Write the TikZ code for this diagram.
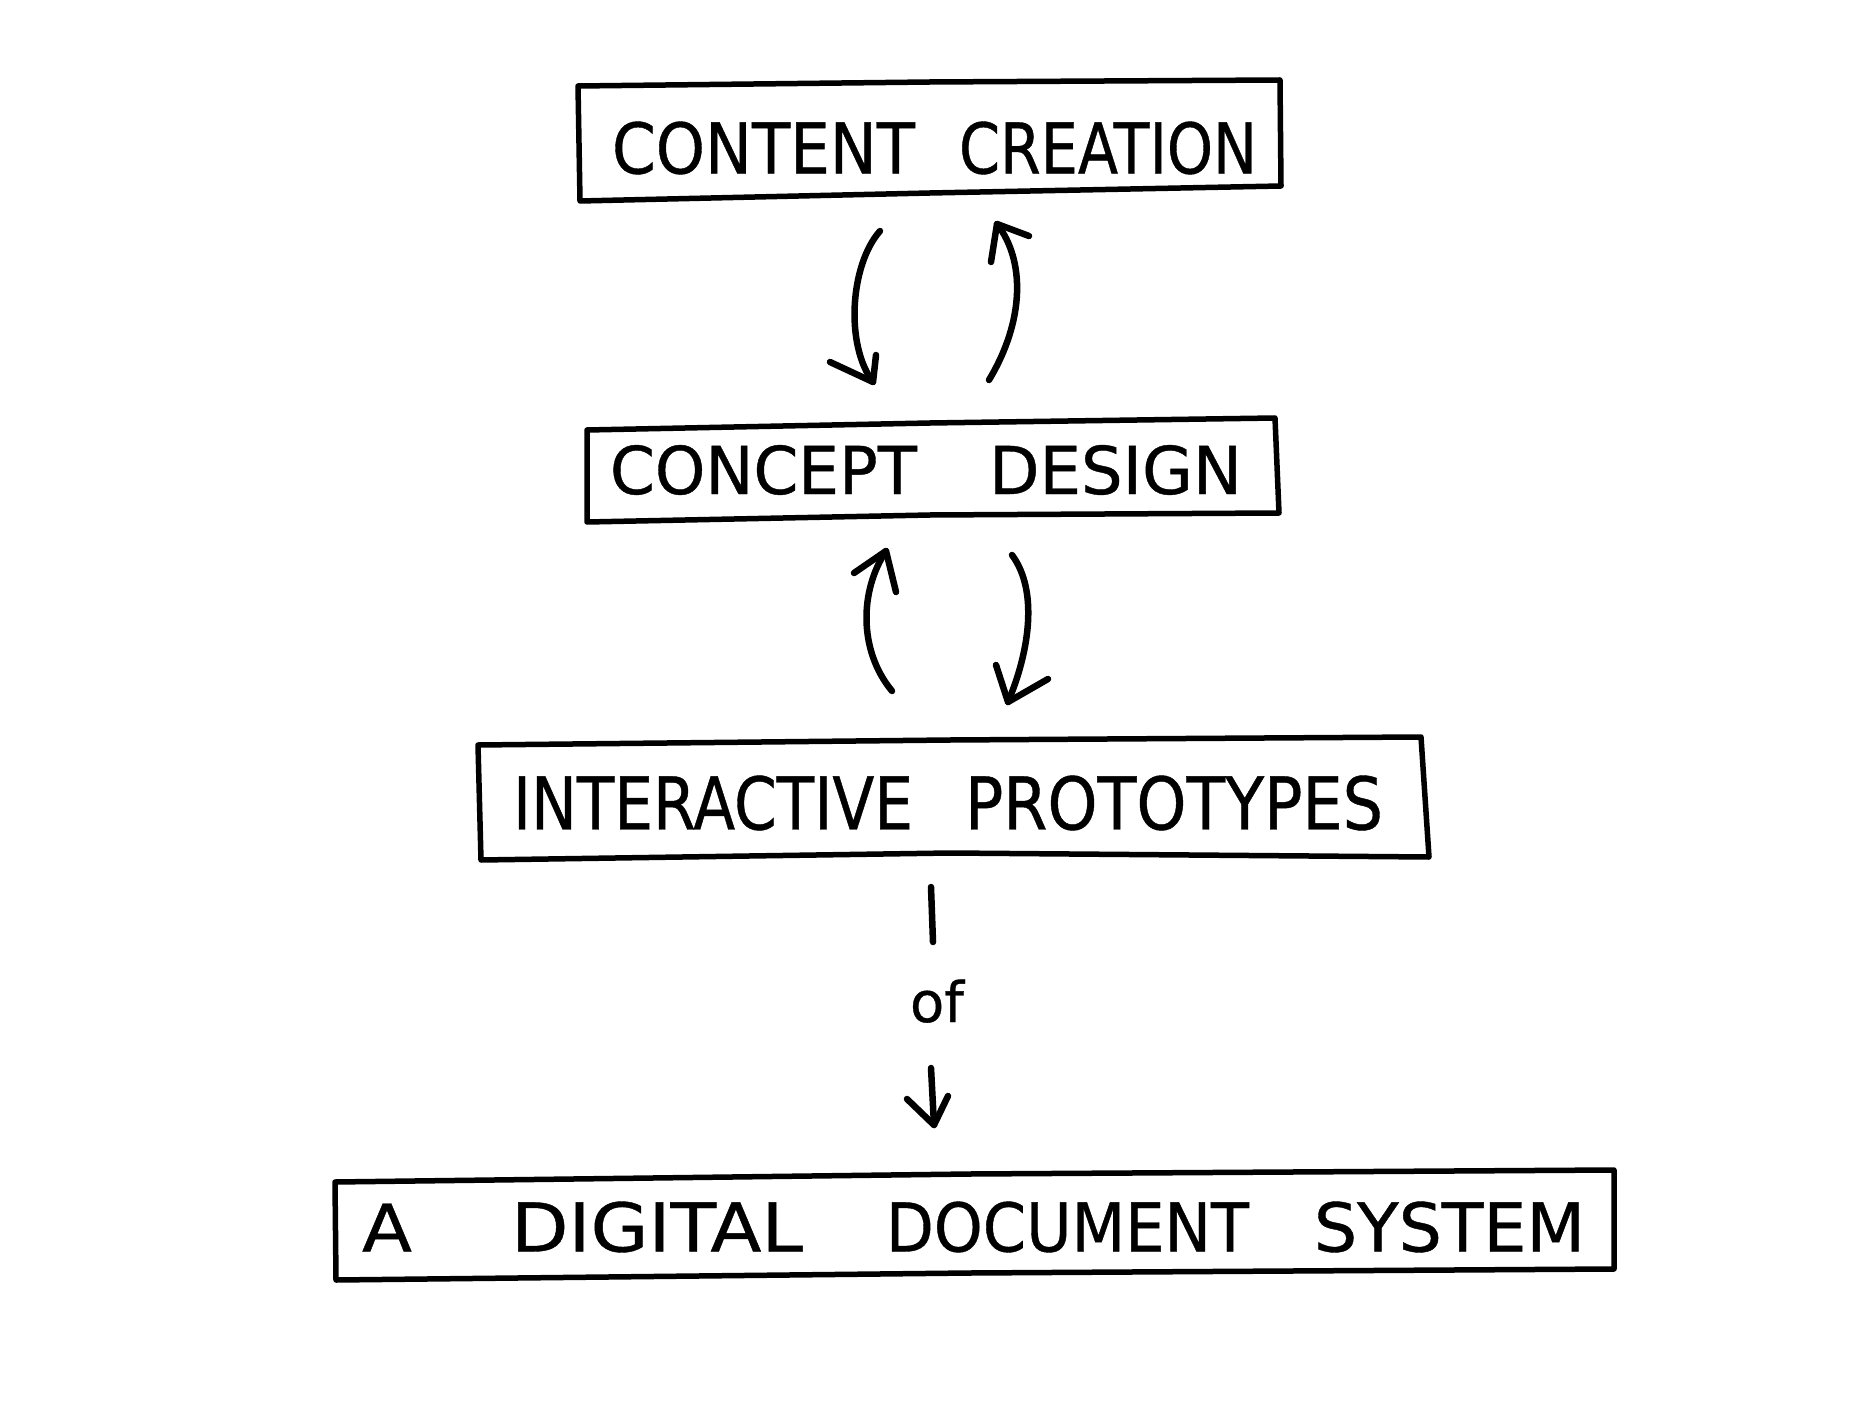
\documentclass[tikz,border=0pt]{standalone}
\usepackage{fontspec}
\usepackage{graphicx}
\newfontfamily\handfont[FakeBold=0.6]{DejaVu Sans}
\newfontfamily\ofont[FakeBold=0.6]{DejaVu Sans}
\newcommand\hwd[3]{\resizebox{#1pt}{#2pt}{#3}}
\tikzset{
  box/.style={line width=5.5pt, line join=round, line cap=round},
  pen/.style={line width=6.5pt, line join=round, line cap=round},
  lbl/.style={font=\handfont\fontsize{70}{80}\selectfont, inner sep=0pt},
}
\begin{document}
\begin{tikzpicture}[x=1pt,y=-1pt]
\useasboundingbox (0,0) rectangle (1872,1404);
% boxes
\draw[box] (578,86) -- (930,82) -- (1280,80) -- (1281,186) -- (930,193) -- (580,201) -- cycle;
\draw[box] (587,430) -- (930,423) -- (1275,418) -- (1279,513) -- (930,515) -- (587,522) -- cycle;
\draw[box] (478,745) -- (950,740) -- (1421,737) -- (1429,857) -- (950,853) -- (481,860) -- cycle;
\draw[box] (335,1182) -- (970,1174) -- (1614,1170) -- (1614,1269) -- (970,1273) -- (336,1280) -- cycle;
% labels
\node[lbl] (cc) at (934.5,148) {\hwd{303}{52}{CONTENT}\hspace{44pt}\hwd{298}{52}{CREATION}};
\node[lbl] (cd) at (926,470) {\hwd{307}{49}{CONCEPT}\hspace{72pt}\hwd{253}{49}{DESIGN}};
\node[lbl] (ip) at (948,803) {\hwd{400}{54}{INTERACTIVE}\hspace{52pt}\hwd{418}{54}{PROTOTYPES}};
\node[lbl] (dds) at (973.5,1227) {\hwd{50}{48}{A}\hspace{99pt}\hwd{292}{50}{DIGITAL}\hspace{83pt}\hwd{363}{50}{DOCUMENT}\hspace{65pt}\hwd{271}{50}{SYSTEM}};
\node[font=\ofont\fontsize{56}{60}\selectfont, inner sep=0pt, anchor=base] (of) at (937,1022) {of};
% arrow end points
\coordinate (a1s) at (880,231); \coordinate (a1t) at (873,382);
\coordinate (a2s) at (989,380); \coordinate (a2t) at (997,224);
\coordinate (a3s) at (892,691); \coordinate (a3t) at (886,551);
\coordinate (a4s) at (1012,555); \coordinate (a4t) at (1008,702);
\coordinate (l1s) at (931,887); \coordinate (l1t) at (933,942);
\coordinate (a5s) at (931,1068); \coordinate (a5t) at (934,1125);
% curved arrows
\draw[pen] (a1s) .. controls (850,265) and (845,345) .. (a1t);
\draw[pen] (830,362) -- (a1t) -- (876,355);
\draw[pen] (a2s) .. controls (1025,320) and (1025,260) .. (a2t);
\draw[pen] (991,262) -- (a2t) -- (1029,236);
\draw[pen] (a3s) .. controls (858,650) and (860,590) .. (a3t);
\draw[pen] (854,573) -- (a3t) -- (896,592);
\draw[pen] (a4s) .. controls (1038,590) and (1030,650) .. (a4t);
\draw[pen] (996,665) -- (a4t) -- (1048,679);
% of connector
\draw[pen] (l1s) -- (l1t);
\draw[pen] (a5s) -- (a5t);
\draw[pen] (907,1099) -- (a5t) -- (948,1096);
\end{tikzpicture}
\end{document}
